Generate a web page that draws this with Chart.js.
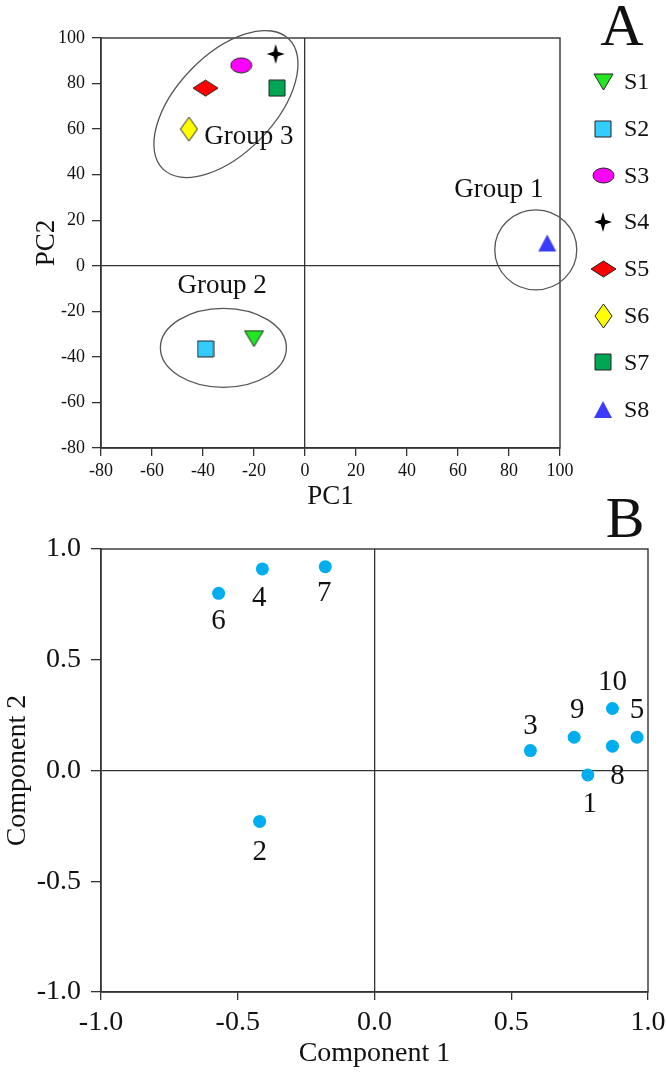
<!DOCTYPE html>
<html>
<head>
<meta charset="utf-8">
<script src="https://cdn.jsdelivr.net/npm/chart.js@4.4.0/dist/chart.umd.min.js"></script>
<style>
  html, body { margin: 0; padding: 0; background: #fff; }
  #wrap { position: relative; width: 666px; height: 1073px; }
  #chartA { position: absolute; left: 0; top: 0; }
  #chartB { position: absolute; left: 0; top: 480px; }
</style>
</head>
<body>
<div id="wrap">
  <canvas id="chartA" width="666" height="520"></canvas>
  <canvas id="chartB" width="666" height="593"></canvas>
</div>
<script>
const serif = "'Liberation Serif', 'Times New Roman', serif";

// panel A - sample scores
const samples = ['S1', 'S2', 'S3', 'S4', 'S5', 'S6', 'S7', 'S8'];
const pc1 = [-20, -39, -25, -11.5, -39, -45.5, -11, 95];
const pc2 = [-32, -36.5, 88, 93, 78, 60, 78, 10];
const markerShapes = ['triDown', 'square', 'ellipse', 'star4', 'diamondWide', 'diamondTall', 'square', 'triUp'];
const markerColors = ['#22e622', '#33ccff', '#ff00ff', '#000000', '#ff0000', '#ffff00', '#00a651', '#3c3cff'];

// group outlines, centre in data units
const groupNames = ['Group 1', 'Group 2', 'Group 3'];
const groupCentres = [[90.5, 7], [-32, -36], [-31, 71]];
const groupLabelAt = [[76, 33.5], [-32.5, -9], [-22, 56.5]];
const groupShape = [[41, 40, 0], [63, 39.5, 0], [90.5, 49, -46]]; // rx, ry (px), rotation (deg)

// panel B - variable loadings
const variables = ['1', '2', '3', '4', '5', '6', '7', '8', '9', '10'];
const comp1 = [0.78, -0.42, 0.57, -0.41, 0.96, -0.57, -0.18, 0.87, 0.73, 0.87];
const comp2 = [-0.02, -0.23, 0.09, 0.91, 0.15, 0.80, 0.92, 0.11, 0.15, 0.28];
const labelOffsets = [[2, 29], [0, 31], [0, -24], [-3, 29], [0, -27], [0, 28], [-1, 27], [5, 30], [3, -27], [0, -26]];


function marker(shape, fill) {
  const sizes = {triDown: [19, 16], square: [16, 16], ellipse: [21, 15], star4: [18, 20],
                 diamondWide: [25, 16], diamondTall: [17, 24], triUp: [18, 17]};
  const [w, h] = sizes[shape];
  const c = document.createElement('canvas');
  c.width = w + 2; c.height = h + 2;
  const g = c.getContext('2d');
  g.translate(1, 1);
  g.beginPath();
  if (shape === 'triDown') { g.moveTo(0, 0); g.lineTo(w, 0); g.lineTo(w / 2, h); g.closePath(); }
  else if (shape === 'triUp') { g.moveTo(w / 2, 0); g.lineTo(w, h); g.lineTo(0, h); g.closePath(); }
  else if (shape === 'square') g.rect(0, 0, w, h);
  else if (shape === 'ellipse') g.ellipse(w / 2, h / 2, w / 2, h / 2, 0, 0, Math.PI * 2);
  else if (shape === 'star4') {
    const cx = w / 2, cy = h / 2, r = 2.2;
    g.moveTo(cx, 0); g.lineTo(cx + r, cy - r); g.lineTo(w, cy); g.lineTo(cx + r, cy + r);
    g.lineTo(cx, h); g.lineTo(cx - r, cy + r); g.lineTo(0, cy); g.lineTo(cx - r, cy - r); g.closePath();
  } else { g.moveTo(w / 2, 0); g.lineTo(w, h / 2); g.lineTo(w / 2, h); g.lineTo(0, h / 2); g.closePath(); }
  g.fillStyle = fill;
  g.fill();
  if (shape !== 'star4' && shape !== 'triUp') {
    g.lineWidth = 1;
    g.strokeStyle = '#222';
    g.stroke();
  }
  return c;
}

function axis(min, max, step, tickFont, titleText, titleFont, tickLen, pad, fmt) {
  return {
    type: 'linear', min: min, max: max,
    border: {display: true, color: '#333', width: 1.4},
    grid: {
      color: c => (c.tick && c.tick.value === 0 ? '#333' : 'rgba(0,0,0,0)'),
      lineWidth: 1.3, tickColor: '#333', tickLength: tickLen, drawTicks: true
    },
    ticks: {
      stepSize: step, color: '#111', padding: pad, autoSkip: false, maxRotation: 0,
      font: {family: serif, size: tickFont},
      callback: fmt
    },
    title: {display: true, text: titleText, color: '#111', font: {family: serif, size: titleFont}}
  };
}

// ---------------- panel A ----------------
const datasetsA = samples.map((s, i) => ({
  label: s,
  data: [{x: pc1[i], y: pc2[i]}],
  pointStyle: marker(markerShapes[i], markerColors[i]),
  pointRadius: 10,
  backgroundColor: markerColors[i]
}));

const panelA = {
  id: 'panelA',
  beforeDatasetsDraw(chart) {
    const {ctx, chartArea: a, scales: {x, y}} = chart;
    ctx.save();
    ctx.strokeStyle = '#333';
    ctx.lineWidth = 1.4;
    ctx.strokeRect(a.left, a.top, a.right - a.left, a.bottom - a.top);
    // group ellipses
    ctx.strokeStyle = '#555';
    ctx.lineWidth = 1.3;
    groupCentres.forEach((c, i) => {
      const [rx, ry, rot] = groupShape[i];
      ctx.beginPath();
      ctx.ellipse(x.getPixelForValue(c[0]), y.getPixelForValue(c[1]), rx, ry, rot * Math.PI / 180, 0, Math.PI * 2);
      ctx.stroke();
    });
    ctx.fillStyle = '#111';
    ctx.font = '27px ' + serif;
    ctx.textAlign = 'center';
    ctx.textBaseline = 'middle';
    groupNames.forEach((n, i) => {
      ctx.fillText(n, x.getPixelForValue(groupLabelAt[i][0]), y.getPixelForValue(groupLabelAt[i][1]));
    });
    ctx.restore();
  },
  afterDraw(chart) {
    const ctx = chart.ctx;
    ctx.save();
    // legend
    ctx.fillStyle = '#111';
    ctx.font = '24px ' + serif;
    ctx.textAlign = 'left';
    ctx.textBaseline = 'middle';
    chart.data.datasets.forEach((ds, i) => {
      const yy = 81.7 + i * 46.8;
      const img = ds.pointStyle;
      ctx.drawImage(img, Math.round(603 - img.width / 2), Math.round(yy - img.height / 2));
      ctx.fillText(ds.label, 624, yy + 1);
    });
    ctx.font = '60px ' + serif;
    ctx.textAlign = 'center';
    ctx.textBaseline = 'alphabetic';
    ctx.fillText('A', 622, 45);
    ctx.restore();
  }
};

const xA = axis(-80, 100, 20, 18, 'PC1', 27, 8, 4);
xA.title.padding = {top: 0, bottom: 7};
xA.afterFit = s => { s.height = 72; s.paddingRight = 0; };
const yA = axis(-80, 100, 20, 18, 'PC2', 27, 9, 7);
yA.title.padding = {top: 31, bottom: 0};
yA.afterFit = s => { s.width = 101; };

new Chart(document.getElementById('chartA'), {
  type: 'scatter',
  data: {datasets: datasetsA},
  options: {
    responsive: false,
    animation: false,
    layout: {padding: {top: 38, right: 106, left: 0, bottom: 0}},
    scales: {x: xA, y: yA},
    plugins: {legend: {display: false}, tooltip: {enabled: false}}
  },
  plugins: [panelA]
});

// ---------------- panel B ----------------
const panelB = {
  id: 'panelB',
  afterDatasetsDraw(chart) {
    const {ctx, chartArea: a} = chart;
    const meta = chart.getDatasetMeta(0);
    ctx.save();
    ctx.strokeStyle = '#333';
    ctx.lineWidth = 1.4;
    ctx.strokeRect(a.left, a.top, a.right - a.left, a.bottom - a.top);
    ctx.fillStyle = '#111';
    ctx.font = '29px ' + serif;
    ctx.textAlign = 'center';
    ctx.textBaseline = 'middle';
    meta.data.forEach((pt, i) => {
      ctx.fillText(variables[i], pt.x + labelOffsets[i][0], pt.y + labelOffsets[i][1]);
    });
    ctx.font = '58px ' + serif;
    ctx.textBaseline = 'alphabetic';
    ctx.fillText('B', 625, 57);
    ctx.restore();
  }
};

const fmt1 = v => Number(v).toFixed(1);
const xB = axis(-1, 1, 0.5, 28, 'Component 1', 28, 8, 6, fmt1);
xB.title.padding = {top: 0, bottom: 3};
xB.afterFit = s => { s.height = 81; s.paddingRight = 0; };
const yB = axis(-1, 1, 0.5, 28, 'Component 2', 28, 10, 10, fmt1);
yB.title.padding = {top: 1, bottom: 0};
yB.afterFit = s => { s.width = 101; };

new Chart(document.getElementById('chartB'), {
  type: 'scatter',
  data: {
    datasets: [{
      label: 'Loadings',
      data: variables.map((v, i) => ({x: comp1[i], y: comp2[i]})),
      pointRadius: 6.5,
      pointBorderWidth: 0,
      backgroundColor: '#00aeef',
      borderColor: '#00aeef'
    }]
  },
  options: {
    responsive: false,
    animation: false,
    layout: {padding: {top: 69, right: 18, left: 0, bottom: 0}},
    scales: {x: xB, y: yB},
    plugins: {legend: {display: false}, tooltip: {enabled: false}}
  },
  plugins: [panelB]
});
</script>
</body>
</html>
